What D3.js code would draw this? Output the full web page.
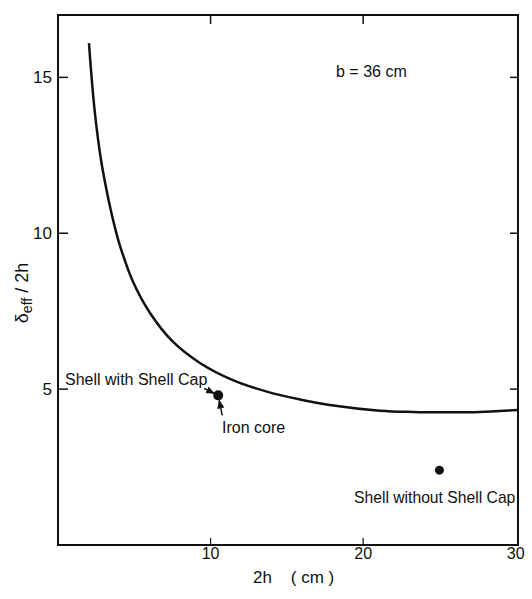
<!DOCTYPE html>
<html>
<head>
<meta charset="utf-8">
<script src="https://cdn.jsdelivr.net/npm/d3@7"></script>
<style>
  body { margin: 0; background: #fff; }
  svg text { font-family: "Liberation Sans", Arial, sans-serif; fill: #111; }
</style>
</head>
<body>
<div id="chart"></div>
<script>
// curve: 2h (cm) vs delta_eff / 2h
var curveX = [2.03, 2.16, 2.42, 2.82, 3.41, 3.80, 4.06, 4.91, 6.02, 7.53, 9.30, 11.46, 13.69, 15.85, 17.81, 21.09, 23.25, 25.5, 27.64, 29.8, 30.15];
var curveY = [16.10, 15.25, 13.85, 12.35, 10.85, 10.05, 9.60, 8.45, 7.45, 6.52, 5.84, 5.29, 4.92, 4.67, 4.49, 4.31, 4.27, 4.26, 4.27, 4.32, 4.33];

var pointNames = ["Iron core", "Shell without Shell Cap"];
var pointX = [10.5, 25.0];
var pointY = [4.8, 2.4];

var xTicks = [10, 20, 30];
var yTicks = [5, 10, 15];

(function(){
var width = 532, height = 599;
var mLeft = 58, mRight = 518, mTop = 15, mBottom = 545;

var svg = d3.select("#chart").append("svg")
    .attr("width", width)
    .attr("height", height);

var x = d3.scaleLinear().domain([0, 30.15]).range([mLeft, mRight]);
var y = d3.scaleLinear().domain([0, 17]).range([mBottom, mTop]);

// frame
svg.append("rect")
    .attr("x", mLeft).attr("y", mTop)
    .attr("width", mRight - mLeft).attr("height", mBottom - mTop)
    .attr("fill", "none")
    .attr("stroke", "#111")
    .attr("stroke-width", 2);

// inward ticks
svg.append("g").selectAll("line")
    .data(yTicks).enter().append("line")
    .attr("x1", mLeft).attr("x2", mLeft + 10)
    .attr("y1", function(d){ return y(d); }).attr("y2", function(d){ return y(d); })
    .attr("stroke", "#111").attr("stroke-width", 1.5);
svg.append("g").selectAll("line")
    .data(yTicks).enter().append("line")
    .attr("x1", mRight).attr("x2", mRight - 8)
    .attr("y1", function(d){ return y(d); }).attr("y2", function(d){ return y(d); })
    .attr("stroke", "#111").attr("stroke-width", 1.5);
svg.append("g").selectAll("line")
    .data([10, 20]).enter().append("line")
    .attr("x1", function(d){ return x(d); }).attr("x2", function(d){ return x(d); })
    .attr("y1", mTop).attr("y2", mTop + 9)
    .attr("stroke", "#111").attr("stroke-width", 1.5);
svg.append("g").selectAll("line")
    .data([10, 20]).enter().append("line")
    .attr("x1", function(d){ return x(d); }).attr("x2", function(d){ return x(d); })
    .attr("y1", mBottom).attr("y2", mBottom - 7)
    .attr("stroke", "#111").attr("stroke-width", 1.2);

// tick labels
svg.append("g").selectAll("text")
    .data(yTicks).enter().append("text")
    .attr("x", mLeft - 6)
    .attr("y", function(d){ return y(d) + 6; })
    .attr("text-anchor", "end")
    .style("font-size", "17px")
    .text(function(d){ return d; });

svg.append("g").selectAll("text")
    .data(xTicks).enter().append("text")
    .attr("x", function(d){ return x(d); })
    .attr("y", 559)
    .attr("text-anchor", "middle")
    .style("font-size", "16px")
    .text(function(d){ return d; });

// axis titles
svg.append("text")
    .attr("x", 253).attr("y", 583)
    .style("font-size", "17px")
    .attr("xml:space", "preserve")
    .text("2h    ( cm )");

var yl = svg.append("text")
    .attr("transform", "translate(28,293) rotate(-90)")
    .attr("text-anchor", "middle")
    .style("font-size", "18px");
yl.append("tspan").text("δ");
yl.append("tspan").attr("dy", 4).style("font-size", "14px").text("eff");
yl.append("tspan").attr("dy", -4).text(" / 2h");

// curve
var line = d3.line()
    .x(function(d){ return x(d[0]); })
    .y(function(d){ return y(d[1]); })
    .curve(d3.curveCatmullRom.alpha(0.5));

svg.append("path")
    .datum(d3.zip(curveX, curveY))
    .attr("d", line)
    .attr("fill", "none")
    .attr("stroke", "#111")
    .attr("stroke-width", 2.5);

// points
svg.append("g").selectAll("circle")
    .data(d3.zip(pointX, pointY)).enter().append("circle")
    .attr("cx", function(d){ return x(d[0]); })
    .attr("cy", function(d){ return y(d[1]); })
    .attr("r", function(d, i){ return i == 0 ? 5 : 4.5; })
    .attr("fill", "#111");

// arrows to iron core point
svg.append("defs").append("marker")
    .attr("id", "ah")
    .attr("viewBox", "0 0 10 10")
    .attr("refX", 9).attr("refY", 5)
    .attr("markerWidth", 6).attr("markerHeight", 6)
    .attr("orient", "auto")
    .append("path").attr("d", "M0,1 L10,5 L0,9 z").attr("fill", "#111");

var px = x(pointX[0]), py = y(pointY[0]);
svg.append("line")
    .attr("x1", px - 14).attr("y1", py - 7)
    .attr("x2", px - 4).attr("y2", py - 2)
    .attr("stroke", "#111").attr("stroke-width", 1.5)
    .attr("marker-end", "url(#ah)");
svg.append("line")
    .attr("x1", px + 4).attr("y1", py + 20)
    .attr("x2", px + 1).attr("y2", py + 5)
    .attr("stroke", "#111").attr("stroke-width", 1.5)
    .attr("marker-end", "url(#ah)");

// labels
svg.append("text")
    .attr("x", 65).attr("y", 385)
    .style("font-size", "16px")
    .text("Shell with Shell Cap");
svg.append("text")
    .attr("x", 222).attr("y", 433)
    .style("font-size", "16px")
    .text(pointNames[0]);
svg.append("text")
    .attr("x", 354).attr("y", 503)
    .style("font-size", "15.7px")
    .text(pointNames[1]);
svg.append("text")
    .attr("x", 336).attr("y", 77)
    .style("font-size", "16px")
    .text("b = 36 cm");
})();
</script>
</body>
</html>
